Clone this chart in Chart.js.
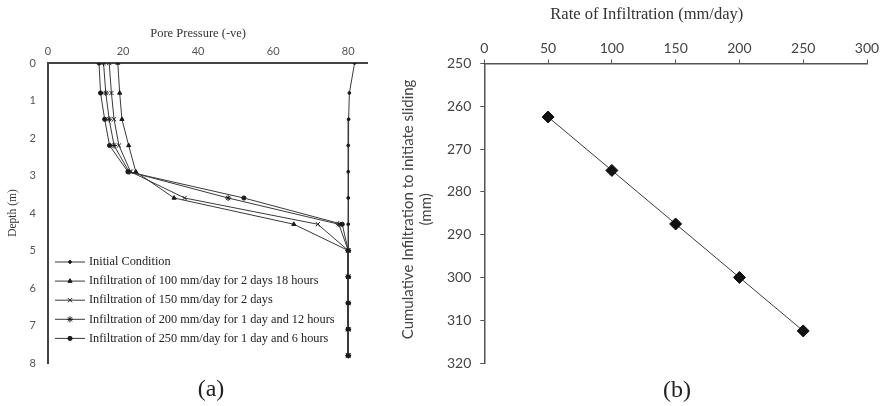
<!DOCTYPE html>
<html><head><meta charset="utf-8">
<script src="https://cdn.jsdelivr.net/npm/chart.js@4/dist/chart.umd.min.js"></script>
<style>
html,body{margin:0;padding:0;background:#fff;}
#wrap{position:relative;width:884px;height:406px;overflow:hidden;background:#fff;}
#ca{position:absolute;left:0;top:0;}
#cb{position:absolute;left:380px;top:0;}
.cap{position:absolute;font-family:"Liberation Serif",serif;font-size:24px;line-height:1;color:#222;transform:translate(-50%,-50%);}
</style></head><body>
<div id="wrap">
<canvas id="ca" width="380" height="406"></canvas>
<canvas id="cb" width="504" height="406"></canvas>
<div class="cap" style="left:211px;top:388px;">(a)</div>
<div class="cap" style="left:677px;top:389px;">(b)</div>
</div>
<script>
// ---------- Panel (a): pore pressure profiles ----------
const depths = [0, 0.8, 1.5, 2.2, 2.9, 3.6, 4.3, 5.0, 5.7, 6.4, 7.1, 7.8];
const initialCondition = [81.7, 80.3, 80.1, 80, 80, 80, 80, 80, 80, 80, 80, 80];
const infil100 = [18.6, 19.1, 19.7, 21.5, 23.4, 33.6, 65.5, 80, 80, 80, 80, 80];
const infil150 = [16.3, 16.9, 17.6, 18.9, 22.0, 36.4, 71.9, 80, 80, 80, 80, 80];
const infil200 = [14.8, 15.4, 16.3, 17.6, 21.6, 48.0, 77.5, 80, 80, 80, 80, 80];
const infil250 = [13.6, 14.0, 15.1, 16.4, 21.3, 52.2, 78.4, 80, 80, 80, 80, 80];
const seriesLabels = [
  'Initial Condition',
  'Infiltration of 100 mm/day for 2 days 18 hours',
  'Infiltration of 150 mm/day for 2 days',
  'Infiltration of 200 mm/day for 1 day and 12 hours',
  'Infiltration of 250 mm/day for 1 day and 6 hours'
];
const poreTicks = [0, 20, 40, 60, 80];
const depthTicks = [0, 1, 2, 3, 4, 5, 6, 7, 8];

// ---------- Panel (b): cumulative infiltration ----------
const rates = [50, 100, 150, 200, 250];
const cumulativeInfiltration = [262.5, 275, 287.5, 300, 312.5];
const rateTicks = [0, 50, 100, 150, 200, 250, 300];
const cumulativeTicks = [250, 260, 270, 280, 290, 300, 310, 320];

const seriesValues = [initialCondition, infil100, infil150, infil200, infil250];
const seriesStyles = [
  {pointStyle: 'circle', pointRadius: 1.4},
  {pointStyle: 'triangle', pointRadius: 2.4},
  {pointStyle: 'crossRot', pointRadius: 3},
  {pointStyle: 'star', pointRadius: 3},
  {pointStyle: 'circle', pointRadius: 2.1}
];

const insideLegend = {
  id: 'insideLegend',
  afterDraw(chart, args, o) {
    const ctx = chart.ctx;
    ctx.save();
    chart.data.datasets.forEach((ds, i) => {
      const y = o.y0 + i * o.dy;
      ctx.strokeStyle = ds.borderColor;
      ctx.lineWidth = ds.borderWidth;
      ctx.beginPath(); ctx.moveTo(o.x0, y); ctx.lineTo(o.x0 + o.len, y); ctx.stroke();
      ctx.fillStyle = ds.pointBackgroundColor;
      ctx.strokeStyle = ds.pointBorderColor;
      ctx.lineWidth = ds.pointBorderWidth;
      Chart.helpers.drawPoint(ctx, {pointStyle: ds.pointStyle, radius: ds.pointRadius, borderWidth: ds.pointBorderWidth, rotation: 0}, o.x0 + o.len / 2, y);
      ctx.fillStyle = o.color;
      ctx.font = o.font;
      ctx.textBaseline = 'middle';
      ctx.textAlign = 'left';
      ctx.fillText(ds.label, o.x0 + o.len + o.gap, y);
    });
    ctx.restore();
  }
};

new Chart(document.getElementById('ca'), {
  type: 'scatter',
  data: {
    datasets: seriesValues.map((vals, i) => ({
      label: seriesLabels[i],
      data: vals.map((v, k) => ({x: v, y: depths[k]})),
      showLine: true,
      borderColor: '#3a3a3a',
      borderWidth: 1,
      pointBackgroundColor: '#1a1a1a',
      pointBorderColor: '#1a1a1a',
      pointBorderWidth: 1,
      pointStyle: seriesStyles[i].pointStyle,
      pointRadius: seriesStyles[i].pointRadius
    }))
  },
  options: {
    responsive: false,
    animation: false,
    layout: {padding: {left: 0, top: 0, right: 13, bottom: 43}},
    plugins: {
      legend: {display: false},
      tooltip: {enabled: false},
      insideLegend: {x0: 55, y0: 262, dy: 19.1, len: 30, gap: 4, color: '#222', font: '12.3px "Liberation Serif"'}
    },
    scales: {
      x: {
        type: 'linear', position: 'top', min: 0, max: 85,
        afterBuildTicks: s => { s.ticks = poreTicks.map(v => ({value: v})); },
        afterFit: s => { s.height = 63; },
        grid: {display: false, drawTicks: false},
        border: {display: true, color: '#444', width: 2},
        ticks: {padding: 5, font: {family: 'Lato', size: 11}, color: '#555'},
        title: {display: true, text: 'Pore Pressure (-ve)      ', color: '#333', font: {family: 'Liberation Serif', size: 12.5}, padding: {top: 26, bottom: 0}}
      },
      y: {
        type: 'linear', position: 'left', reverse: true, min: 0, max: 8,
        afterBuildTicks: s => { s.ticks = depthTicks.map(v => ({value: v})); },
        afterFit: s => { s.width = 48; },
        grid: {display: false, drawTicks: false},
        border: {display: true, color: '#444', width: 2},
        ticks: {padding: 12, font: {family: 'Lato', size: 11}, color: '#555'},
        title: {display: true, text: 'Depth (m)', color: '#333', font: {family: 'Liberation Serif', size: 11.5}, padding: {top: 6, bottom: 0}}
      }
    }
  },
  plugins: [insideLegend]
});

new Chart(document.getElementById('cb'), {
  type: 'scatter',
  data: {
    datasets: [{
      label: 'Cumulative Infiltration',
      data: rates.map((r, i) => ({x: r, y: cumulativeInfiltration[i]})),
      showLine: true,
      borderColor: '#3a3a3a',
      borderWidth: 1,
      pointStyle: 'rectRot',
      pointRadius: 6,
      pointBackgroundColor: '#111',
      pointBorderColor: '#111',
      pointBorderWidth: 1
    }]
  },
  options: {
    responsive: false,
    animation: false,
    layout: {padding: {left: 0, top: 0, right: 17, bottom: 43}},
    plugins: {legend: {display: false}, tooltip: {enabled: false}},
    scales: {
      x: {
        type: 'linear', position: 'top', min: 0, max: 300,
        afterBuildTicks: s => { s.ticks = rateTicks.map(v => ({value: v})); },
        afterFit: s => { s.height = 63.5; },
        grid: {display: true, drawOnChartArea: false, drawTicks: true, tickLength: 4, color: '#555'},
        border: {display: true, color: '#555', width: 1.5},
        ticks: {padding: 3, font: {family: 'Lato', size: 14}, color: '#444'},
        title: {display: true, text: 'Rate of Infiltration (mm/day)              ', color: '#333', font: {family: 'Liberation Serif', size: 16.5}, padding: {top: 5, bottom: 0}}
      },
      y: {
        type: 'linear', position: 'left', reverse: true, min: 250, max: 320,
        afterBuildTicks: s => { s.ticks = cumulativeTicks.map(v => ({value: v})); },
        afterFit: s => { s.width = 104.3; },
        grid: {display: true, drawOnChartArea: false, drawTicks: true, tickLength: 4, color: '#555'},
        border: {display: true, color: '#555', width: 1.5},
        ticks: {padding: 9, font: {family: 'Lato', size: 14}, color: '#444'},
        title: {display: true, text: ['  Cumulative Infiltration to initiate sliding', '  (mm)'], color: '#444', font: {family: 'Lato', size: 15}, padding: {top: 19, bottom: 0}}
      }
    }
  }
});
</script>
</body></html>
